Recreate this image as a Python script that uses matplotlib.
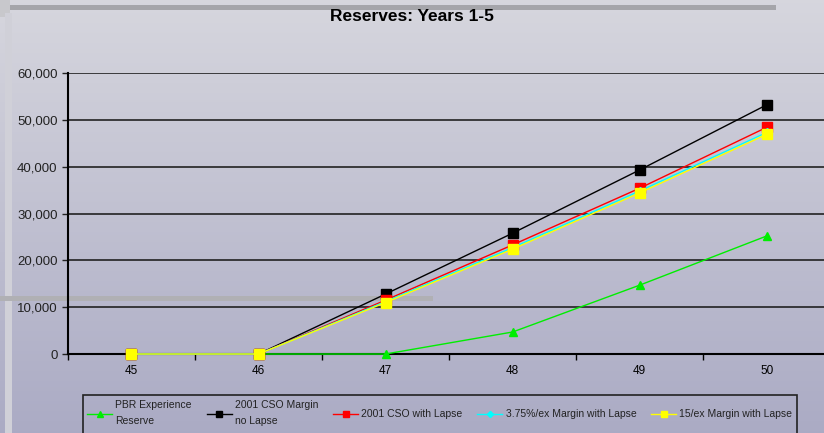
import matplotlib.pyplot as plt
import numpy as np
from matplotlib.ticker import FuncFormatter

# policy years / ages on the category axis
ages = ['45', '46', '47', '48', '49', '50']

pbr_exp = [0, 0, 0, 4700, 14700, 25200]
cso_no_lapse = [0, 0, 12800, 25800, 39300, 53200]
cso_lapse = [0, 0, 11500, 23300, 35400, 48400]
margin_375 = [0, 0, 11200, 22700, 34800, 47300]
margin_15 = [0, 0, 11000, 22400, 34400, 46900]

labels = ['PBR Experience\nReserve', '2001 CSO Margin\nno Lapse', '2001 CSO with Lapse',
          '3.75%/ex Margin with Lapse', '15/ex Margin with Lapse']

plt.rcParams['font.family'] = ['Liberation Sans Narrow', 'Liberation Sans', 'DejaVu Sans']

fig = plt.figure(figsize=(8.24, 4.33), dpi=100)

#background gradient + slide decorations
bg = fig.add_axes([0, 0, 1, 1], zorder=0)
grad = np.linspace(0, 1, 256).reshape(-1, 1)
top = np.array([0.84, 0.84, 0.87])
bot = np.array([0.67, 0.67, 0.77])
img = top + (bot - top) * grad[..., None]
bg.imshow(img, aspect='auto', extent=[0, 1, 0, 1], origin='upper')
bg.add_patch(plt.Rectangle((0.012, 0.977), 0.93, 0.012, color='#a5a5aa', lw=0))
bg.add_patch(plt.Rectangle((0.0, 0.96), 0.012, 0.04, color='#c8c8cc', lw=0))
bg.add_patch(plt.Rectangle((0.006, 0.0), 0.008, 0.97, color='#d0d0d8', lw=0))
bg.add_patch(plt.Rectangle((0.0, 0.305), 0.525, 0.012, color='#b0b0b4', lw=0))
# legend frame runs off the bottom of the slide
bg.add_patch(plt.Rectangle((0.1007, -0.05), 0.8665, 0.1378, fill=False, ec='#222222', lw=1.2))
bg.set_xlim(0, 1)
bg.set_ylim(0, 1)
bg.axis('off')

ax = fig.add_axes([0.0825, 0.1824, 0.925, 0.649], zorder=1)
ax.set_facecolor('none')
x = np.arange(len(ages))

kw = dict(lw=1.0, clip_on=False, zorder=3)
ax.plot(x, pbr_exp, color='#00ee00', marker='^', ms=6, label=labels[0], **kw)
ax.plot(x, cso_no_lapse, color='black', marker='s', ms=6.5, label=labels[1], **kw)
ax.plot(x, cso_lapse, color='red', marker='s', ms=6.5, label=labels[2], **kw)
ax.plot(x, margin_375, color='cyan', marker='D', ms=4.5, label=labels[3], **kw)
ax.plot(x, margin_15, color='yellow', marker='s', ms=6.5, label=labels[4], **kw)

ax.set_xlim(-0.5, 5.5)
ax.set_ylim(0, 60000)
ax.set_xticks(x)
ax.set_xticklabels(ages)
ax.set_xticks(np.arange(-0.5, 6, 1), minor=True)
ax.tick_params(axis='x', which='major', length=0, pad=8, labelsize=8.5)
ax.tick_params(axis='x', which='minor', length=4, direction='out', width=1)
ax.set_yticks(np.arange(0, 60001, 10000))
ax.yaxis.set_major_formatter(FuncFormatter(lambda v, p: f'{int(v):,}'))
ax.tick_params(axis='y', length=4, width=1, labelsize=9.5, colors='#222222', labelcolor='#222222')
ax.grid(axis='y', color='#222222', lw=1.2, zorder=1)
ax.set_axisbelow(True)
for s in ['top', 'right']:
    ax.spines[s].set_visible(False)
ax.spines['left'].set_linewidth(1.5)
ax.spines['bottom'].set_linewidth(1.5)

fig.text(0.5, 0.962, 'Reserves: Years 1-5', ha='center', va='center', fontsize=12.5, fontweight='bold')

leg = fig.legend(loc='upper left', bbox_to_anchor=(0.1007, 0.085, 0.866, 0.0), mode='expand',
                 ncol=5, fontsize=7.5, frameon=False, handlelength=2.4,
                 handletextpad=0.3, borderaxespad=0, markerscale=0.7, columnspacing=1.0)
for t in leg.get_texts():
    t.set_linespacing(1.7)
    t.set_color('#222222')

plt.savefig('out.png', dpi=100)
